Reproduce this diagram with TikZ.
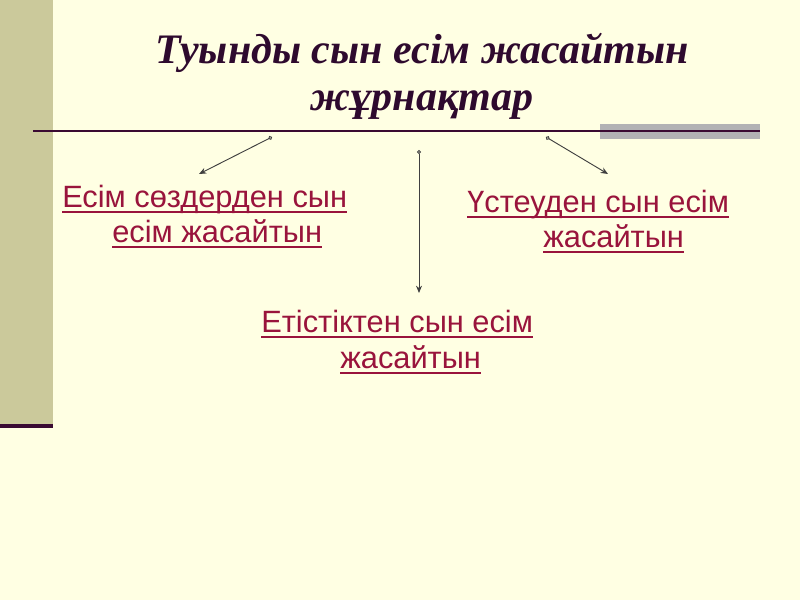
\documentclass[tikz,border=0pt]{standalone}
\usepackage{fontspec}
\setmainfont{Liberation Serif}
\newfontfamily\arialf{Liberation Sans}
\usetikzlibrary{arrows.meta}
\definecolor{bgc}{HTML}{FFFFE3}
\definecolor{barc}{HTML}{CBC99B}
\definecolor{darkp}{HTML}{3A0A32}
\definecolor{titlec}{HTML}{2E0A2E}
\definecolor{linkc}{HTML}{99143C}
\definecolor{bandc}{HTML}{B2B2B4}
\definecolor{arrc}{HTML}{404040}
\tikzset{
  lbl/.style={anchor=base west, inner sep=0pt, text=linkc, font=\arialf\fontsize{23.1pt}{26pt}\selectfont},
  ttl/.style={anchor=base, inner sep=0pt, text=titlec, font=\bfseries\itshape\fontsize{31.5pt}{36pt}\selectfont},
  uline/.style={draw=linkc, line width=1.6pt},
  conn/.style={draw=arrc, line width=0.7pt, {Circle[open,length=3pt,width=3pt]}-{Stealth[length=5.5pt,width=4.5pt]}}
}
\begin{document}
\begin{tikzpicture}[x=0.75pt,y=-0.75pt]
\useasboundingbox (0,0) rectangle (800,600);
\fill[bgc] (0,0) rectangle (800,600);
\fill[barc] (0,0) rectangle (53,424);
\fill[darkp] (0,424) rectangle (53,428);
\fill[bandc] (600,124) rectangle (760,139);
\draw[darkp, line width=1.2pt] (33,131) -- (760,131);

\node[ttl] (t1) at (422,63) {Туынды сын есім жасайтын};
\node[ttl] (t2) at (422,110) {жұрнақтар};

\node[lbl] (a1) at (62,207) {Есім сөздерден сын};
\node[lbl] (a2) at (112,242) {есім жасайтын};
\node[lbl] (b1) at (467,212) {Үстеуден сын есім};
\node[lbl] (b2) at (543,247) {жасайтын};
\node[lbl] (c1) at (261,332) {Етістіктен сын есім};
\node[lbl] (c2) at (340,368) {жасайтын};

\foreach \n in {a1,a2,b1,b2,c1,c2}{
  \draw[uline] ([yshift=-3.8pt]\n.base west) -- ([yshift=-3.8pt]\n.base east);
}

\coordinate (s1) at (272,137); \coordinate (e1) at (199,174);
\coordinate (s2) at (419,150); \coordinate (e2) at (419,293);
\coordinate (s3) at (546,137); \coordinate (e3) at (608,174);
\draw[conn] (s1) -- (e1);
\draw[conn] (s2) -- (e2);
\draw[conn] (s3) -- (e3);
\end{tikzpicture}
\end{document}
